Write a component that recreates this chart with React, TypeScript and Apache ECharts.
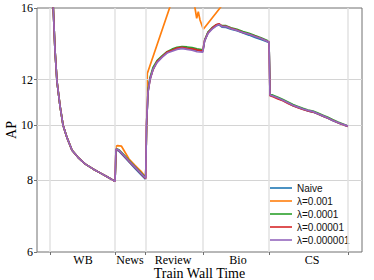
import React, { useEffect, useRef } from "react";
import * as echarts from "echarts";

const taskNames = ["WB", "News", "Review", "Bio", "CS"];
const taskLabelTimes = [46, 93, 136, 201, 275];
const taskBoundaries = [13, 78, 108.7, 166, 232, 311];
const yTicks = [6, 8, 10, 12, 16];
const seriesNames = ["Naive", "λ=0.001", "λ=0.0001", "λ=0.00001", "λ=0.000001"];
const seriesColors = ["#1f77b4", "#ff7f0e", "#2ca02c", "#d62728", "#9467bd"];

const timeMain = [
  13, 14.5, 16, 18, 20, 23, 26, 30, 35, 41, 48, 56, 64, 71, 78,
  79, 82, 86, 92, 98, 104, 108.7,
  109.5, 111, 113, 116, 120, 125, 130, 135, 140, 145, 150, 155, 160, 165.8,
  167.5, 171, 175, 179, 182, 185, 189, 194, 200, 206, 212, 218, 224, 232,
  233, 236, 241, 246, 251, 256, 261, 266, 271, 276, 281, 286, 291, 296, 301, 306, 311,
];

const naive = [
  30, 19.5, 16.4, 13.5, 11.9, 10.8, 10.0, 9.5, 9.03, 8.78, 8.55, 8.38, 8.23, 8.1, 7.97,
  9.06, 9.0, 8.85, 8.62, 8.4, 8.19, 8.03,
  10.0, 11.45, 12.02, 12.52, 12.88, 13.15, 13.38, 13.5, 13.58, 13.62, 13.6, 13.55, 13.5, 13.45,
  14.0, 14.5, 14.72, 14.9, 14.95, 14.82, 14.8, 14.7, 14.6, 14.47, 14.35, 14.22, 14.1, 13.93,
  11.28, 11.24, 11.13, 11.03, 10.92, 10.8, 10.73, 10.65, 10.58, 10.53, 10.45, 10.36, 10.27, 10.17, 10.09, 10.01, 9.94,
];

const lambda1e4 = [
  30, 19.5, 16.4, 13.5, 11.9, 10.8, 10.0, 9.5, 9.03, 8.78, 8.55, 8.38, 8.23, 8.1, 7.97,
  9.09, 9.05, 8.9, 8.67, 8.46, 8.25, 8.09,
  10.0, 11.5, 12.1, 12.6, 12.95, 13.2, 13.42, 13.56, 13.66, 13.7, 13.68, 13.64, 13.58, 13.52,
  14.05, 14.52, 14.78, 14.95, 14.98, 14.9, 14.9, 14.78, 14.68, 14.56, 14.45, 14.32, 14.2, 14.0,
  11.3, 11.27, 11.18, 11.07, 10.96, 10.85, 10.77, 10.69, 10.62, 10.57, 10.49, 10.4, 10.31, 10.21, 10.12, 10.04, 9.96,
];

const lambda1e5 = [
  30, 19.5, 16.4, 13.5, 11.9, 10.8, 10.0, 9.5, 9.03, 8.78, 8.55, 8.38, 8.23, 8.1, 7.97,
  9.08, 9.02, 8.87, 8.64, 8.43, 8.22, 8.06,
  10.0, 11.42, 12.0, 12.48, 12.9, 13.15, 13.4, 13.5, 13.62, 13.66, 13.6, 13.58, 13.52, 13.46,
  14.02, 14.48, 14.75, 14.95, 15.02, 14.88, 14.86, 14.74, 14.64, 14.5, 14.4, 14.28, 14.15, 13.96,
  11.25, 11.2, 11.1, 11.02, 10.9, 10.8, 10.72, 10.64, 10.58, 10.53, 10.45, 10.36, 10.27, 10.18, 10.09, 10.01, 9.94,
];

const lambda1e6 = [
  30, 19.5, 16.4, 13.5, 11.9, 10.8, 10.0, 9.5, 9.03, 8.78, 8.55, 8.38, 8.23, 8.1, 7.97,
  9.08, 9.03, 8.88, 8.65, 8.44, 8.23, 8.07,
  10.0, 11.4, 12.0, 12.5, 12.85, 13.12, 13.35, 13.45, 13.55, 13.6, 13.55, 13.5, 13.42, 13.4,
  14.0, 14.45, 14.7, 14.88, 14.97, 14.85, 14.85, 14.72, 14.62, 14.5, 14.4, 14.27, 14.15, 13.95,
  11.28, 11.23, 11.14, 11.04, 10.93, 10.82, 10.74, 10.66, 10.6, 10.55, 10.46, 10.37, 10.28, 10.18, 10.1, 10.02, 9.95,
];

const timeOrange = [
  13, 14.5, 16, 18, 20, 23, 26, 30, 35, 41, 48, 56, 64, 71, 78,
  79, 80.5, 84.5, 92, 98, 104, 108.7,
  110.3, 133, 145, 156, 158, 159.7, 161.3, 163, 166.3,
  183, 200, 220, 232,
  233, 260, 290, 311,
];

const lambda1e3 = [
  30, 19.5, 16.4, 13.5, 11.9, 10.8, 10.0, 9.5, 9.03, 8.78, 8.55, 8.38, 8.23, 8.1, 7.97,
  9.18, 9.2, 9.18, 8.72, 8.5, 8.3, 8.1,
  12.3, 16.08, 18.5, 16.6, 16.0, 15.35, 15.76, 15.25, 14.69,
  16.0, 17.6, 19.0, 19.8,
  18.0, 17.6, 17.3, 17.1,
];

const seriesTimes = [timeMain, timeOrange, timeMain, timeMain, timeMain];
const seriesValues = [naive, lambda1e3, lambda1e4, lambda1e5, lambda1e6];

const serif = "'Liberation Serif', 'Times New Roman', serif";
const sans = "'Liberation Sans', Arial, sans-serif";

export default function App() {
  const ref = useRef<HTMLDivElement>(null);

  useEffect(() => {
    if (!ref.current) return;
    const chart = echarts.init(ref.current, null, { renderer: "svg" });

    const series: any[] = seriesNames.map((name, i) => ({
      name,
      type: "line",
      data: seriesTimes[i].map((t, j) => [t, seriesValues[i][j]]),
      showSymbol: false,
      symbol: "none",
      clip: true,
      lineStyle: { width: 1.7, color: seriesColors[i] },
      itemStyle: { color: seriesColors[i] },
      z: 2 + i,
    }));

    series.unshift({
      name: "grid-lines",
      type: "line",
      data: [],
      silent: true,
      z: 1,
      markLine: {
        silent: true,
        symbol: ["none", "none"],
        label: { show: false },
        emphasis: { disabled: true },
        data: [
          ...yTicks.slice(1, -1).map((v) => ({
            yAxis: v,
            lineStyle: { color: "#d4d4d4", width: 1, type: "solid" },
          })),
          ...taskBoundaries.map((v) => ({
            xAxis: v,
            lineStyle: { color: "#e2e2e2", width: 1.5, type: "solid" },
          })),
        ],
      },
    });

    chart.setOption({
      animation: false,
      backgroundColor: "#ffffff",
      grid: {
        left: 37,
        right: 12,
        top: 8,
        bottom: 28,
        containLabel: false,
        outerBoundsMode: "none",
        show: true,
        borderColor: "#707070",
        borderWidth: 1,
        backgroundColor: "transparent",
      },
      legend: {
        data: seriesNames,
        orient: "vertical",
        left: 265,
        top: 178,
        itemWidth: 22,
        itemHeight: 10,
        itemGap: 3,
        icon: "path://M0,0 L22,0 L22,1.6 L0,1.6 Z",
        textStyle: { fontSize: 10, fontFamily: sans, color: "#111" },
      },
      xAxis: {
        type: "value",
        min: 0,
        max: 325,
        name: "Train Wall Time",
        nameLocation: "middle",
        nameGap: 14,
        nameMoveOverlap: false,
        nameTextStyle: { fontFamily: serif, fontSize: 14, lineHeight: 14, color: "#000" },
        axisLine: { show: false },
        axisTick: {
          show: true,
          customValues: taskBoundaries,
          length: 3,
          lineStyle: { color: "#707070" },
        },
        axisLabel: {
          customValues: taskLabelTimes,
          margin: 2,
          fontFamily: serif,
          fontSize: 12,
          lineHeight: 12,
          color: "#000",
          formatter: (v: number) => {
            const k = taskLabelTimes.indexOf(v);
            return k >= 0 ? taskNames[k] : "";
          },
        },
        splitLine: { show: false },
      },
      yAxis: {
        type: "log",
        logBase: 10,
        min: 6,
        max: 16,
        name: "AP",
        nameLocation: "middle",
        nameGap: 19,
        nameMoveOverlap: false,
        nameTextStyle: { fontFamily: serif, fontSize: 14, color: "#000" },
        axisLine: { show: false },
        axisTick: {
          show: true,
          customValues: yTicks,
          length: 3,
          lineStyle: { color: "#707070" },
        },
        axisLabel: {
          customValues: yTicks,
          margin: 4,
          fontFamily: serif,
          fontSize: 12,
          color: "#000",
          formatter: (v: number) => String(Math.round(v)),
        },
        splitLine: { show: false },
        minorSplitLine: { show: false },
      },
      series,
    });

    return () => chart.dispose();
  }, []);

  return (
    <div
      ref={ref}
      style={{ position: "fixed", left: 0, top: 0, width: 374, height: 280 }}
    />
  );
}
